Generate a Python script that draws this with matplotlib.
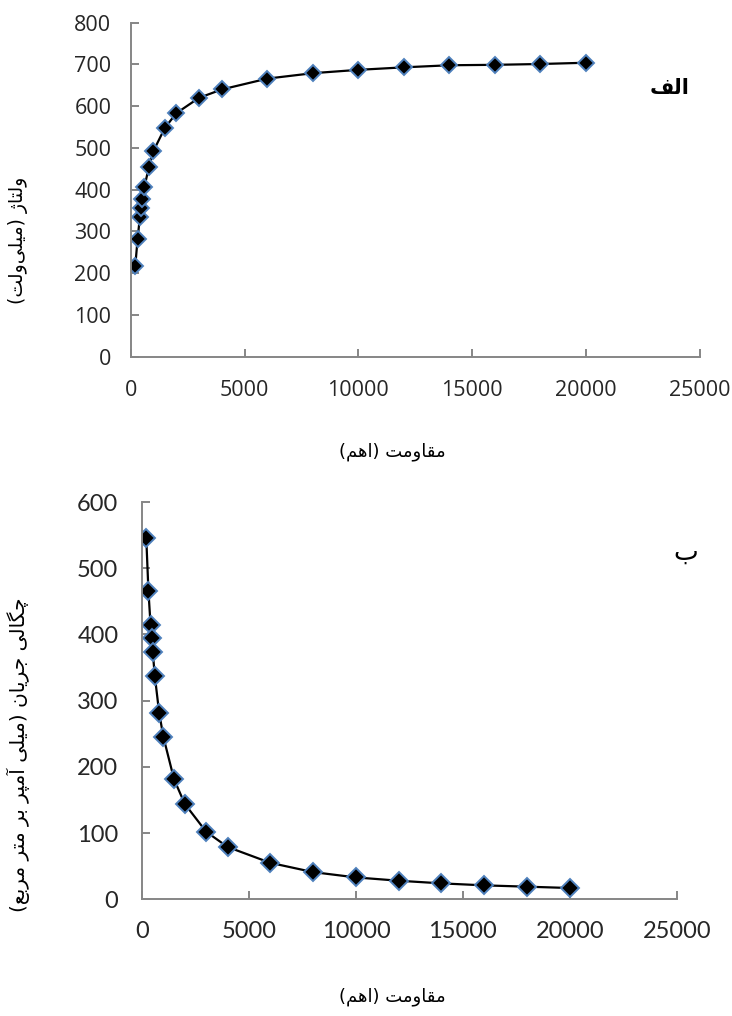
import matplotlib
matplotlib.use('Agg')
import matplotlib.pyplot as plt

# resistance (ohm)
resistance = [200, 300, 400, 450, 500, 600, 800, 1000, 1500, 2000, 3000, 4000,
              6000, 8000, 10000, 12000, 14000, 16000, 18000, 20000]
# voltage (mV)
voltage = [218, 281, 334, 357, 377, 406, 455, 493, 548, 583, 620, 640,
           666, 679, 687, 693, 698, 699, 701, 704]
# current density (mA/m2)
current_density = [545, 466, 414, 395, 374, 337, 282, 245, 181, 144, 102, 79,
                   55, 41, 33, 28, 24, 21, 19, 17]

x_ticks = [0, 5000, 10000, 15000, 20000, 25000]
v_ticks = [0, 100, 200, 300, 400, 500, 600, 700, 800]
j_ticks = [0, 100, 200, 300, 400, 500, 600]

xlabel_text = 'مقاومت (اهم)'
vlabel_text = 'ولتاژ (میلی\u200cولت)'
jlabel_text = 'چگالی جریان (میلی آمپر بر متر مربع)'
panel_a = 'الف'
panel_b = 'ب'

# contextual forms: isolated, final, initial, medial
FORMS = {
    'ا': ('\uFE8D', '\uFE8E', None, None),
    'آ': ('\uFE81', '\uFE82', None, None),
    'ر': ('\uFEAD', '\uFEAE', None, None),
    'ژ': ('\uFB8A', '\uFB8B', None, None),
    'و': ('\uFEED', '\uFEEE', None, None),
    'ب': ('\uFE8F', '\uFE90', '\uFE91', '\uFE92'),
    'پ': ('\uFB56', '\uFB57', '\uFB58', '\uFB59'),
    'ت': ('\uFE95', '\uFE96', '\uFE97', '\uFE98'),
    'ج': ('\uFE9D', '\uFE9E', '\uFE9F', '\uFEA0'),
    'چ': ('\uFB7A', '\uFB7B', '\uFB7C', '\uFB7D'),
    'ع': ('\uFEC9', '\uFECA', '\uFECB', '\uFECC'),
    'ف': ('\uFED1', '\uFED2', '\uFED3', '\uFED4'),
    'ق': ('\uFED5', '\uFED6', '\uFED7', '\uFED8'),
    'گ': ('\uFB92', '\uFB93', '\uFB94', '\uFB95'),
    'ل': ('\uFEDD', '\uFEDE', '\uFEDF', '\uFEE0'),
    'م': ('\uFEE1', '\uFEE2', '\uFEE3', '\uFEE4'),
    'ن': ('\uFEE5', '\uFEE6', '\uFEE7', '\uFEE8'),
    'ه': ('\uFEE9', '\uFEEA', '\uFEEB', '\uFEEC'),
    'ی': ('\uFBFC', '\uFBFD', '\uFBFE', '\uFBFF'),
}
MIRROR = {'(': ')', ')': '('}


def shape(text):
    """
    text: str: persian text in logical order
    rtype: str: joined glyph forms in visual (left to right) order
    """
    out = []
    n = len(text)
    for i, ch in enumerate(text):
        if ch not in FORMS:
            if ch != '\u200c':
                out.append(MIRROR.get(ch, ch))
            continue
        prev = text[i - 1] if i > 0 else ''
        nxt = text[i + 1] if i < n - 1 else ''
        join_prev = prev in FORMS and FORMS[prev][2] is not None
        join_next = nxt in FORMS and FORMS[ch][2] is not None
        iso, fin, ini, med = FORMS[ch]
        if join_prev and join_next:
            out.append(med)
        elif join_prev:
            out.append(fin)
        elif join_next:
            out.append(ini)
        else:
            out.append(iso)
    return ''.join(reversed(out))


def style_axes(ax, yticks, ymax, pad_x, pad_y, font):
    ax.set_xlim(0, 25000)
    ax.set_ylim(0, ymax)
    ax.set_xticks(x_ticks)
    ax.set_yticks(yticks)
    for side in ['top', 'right']:
        ax.spines[side].set_visible(False)
    for side in ['left', 'bottom']:
        ax.spines[side].set_color('#868686')
        ax.spines[side].set_linewidth(1.4)
    ax.tick_params(axis='both', direction='in', length=6, width=1.4,
                   color='#868686', labelcolor='#262626', labelsize=15.5)
    ax.tick_params(axis='x', pad=pad_x)
    ax.tick_params(axis='y', pad=pad_y)
    for lab in ax.get_xticklabels() + ax.get_yticklabels():
        lab.set_fontfamily(font)


fig = plt.figure(figsize=(7.32, 10.16), dpi=100)

ax1 = fig.add_axes([0.1786, 0.6489, 0.7773, 0.3288])
ax1.plot(resistance, voltage, color='black', linewidth=1.6, marker='D',
         markersize=8.5, markerfacecolor='black', markeredgecolor='#4f81bd',
         markeredgewidth=1.4)
style_axes(ax1, v_ticks, 800, 17, 14, 'Open Sans')

ax2 = fig.add_axes([0.194, 0.1149, 0.7305, 0.391])
ax2.plot(resistance, current_density, color='black', linewidth=1.6, marker='D',
         markersize=9, markerfacecolor='black', markeredgecolor='#4f81bd',
         markeredgewidth=1.4)
style_axes(ax2, j_ticks, 600, 16, 17, 'Lato')
for lab in ax2.get_xticklabels() + ax2.get_yticklabels():
    lab.set_fontsize(17)

fig.text(392 / 732, 1 - 452 / 1016, shape(xlabel_text), ha='center', va='center',
         fontsize=13, family='DejaVu Sans')
fig.text(18 / 732, 1 - 240 / 1016, shape(vlabel_text), ha='center', va='center',
         rotation=90, fontsize=13.5, family='DejaVu Sans')
fig.text(670 / 732, 1 - 88 / 1016, shape(panel_a), ha='center', va='center',
         fontsize=15, fontweight='bold', family='DejaVu Sans')

fig.text(392 / 732, 1 - 997 / 1016, shape(xlabel_text), ha='center', va='center',
         fontsize=13, family='DejaVu Sans')
fig.text(18 / 732, 1 - 755 / 1016, shape(jlabel_text), ha='center', va='center',
         rotation=90, fontsize=14.5, family='DejaVu Sans')
fig.text(686 / 732, 1 - 553 / 1016, shape(panel_b), ha='center', va='center',
         fontsize=19, family='DejaVu Sans')

fig.savefig('out.png', dpi=100)
